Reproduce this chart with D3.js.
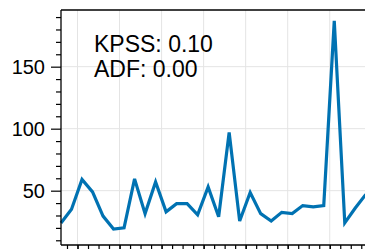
<!DOCTYPE html>
<html>
<head>
<meta charset="utf-8">
<script src="https://cdn.jsdelivr.net/npm/d3@7"></script>
<style>
  body { margin: 0; background: #fff; }
  svg { display: block; font-family: "Liberation Sans", Arial, sans-serif; }
</style>
</head>
<body>
<div id="visual"></div>
<script>
// series values (one per period)
var values = [24, 35, 59, 49, 29.5, 19, 20, 59.5, 31.5, 57, 33, 39.5, 39.5, 30.5, 53,
              29, 97, 25.5, 48.5, 31.5, 25.5, 32.5, 31.5, 38, 37, 38, 187, 24, 36, 47];
var yTicks = [50, 100, 150];
var yMinor = [10, 20, 30, 40, 60, 70, 80, 90, 110, 120, 130, 140, 160, 170, 180, 190];
var statLines = ["KPSS: 0.10", "ADF: 0.00"];

const w = 365;
const h = 249;
const padLeft = 61, padTop = 10, padBottom = 245;
const step = 10.51;
const tickOffset = 0.57;

const xScale = d3.scaleLinear()
                 .domain([0, 30])
                 .range([padLeft, padLeft + 30 * step]);

const yScale = d3.scaleLinear()
                 .domain([6.2, 195.7])
                 .range([padBottom, padTop]);

// x ticks sit between the data points, major every 4
var xMinor = d3.range(0, 30).map(k => k + tickOffset);
var xMajor = xMinor.filter((d, i) => i % 4 == 1);

const svgC = d3.select("#visual")
               .append("svg")
               .attr("width", w)
               .attr("height", h);

// grid
svgC.append("g")
    .selectAll("line")
    .data(xMajor)
    .enter()
    .append("line")
    .attr("x1", d => xScale(d)).attr("x2", d => xScale(d))
    .attr("y1", padTop).attr("y2", padBottom)
    .attr("stroke", "#e4e4e4")
    .attr("stroke-width", 1);

svgC.append("g")
    .selectAll("line")
    .data(yTicks)
    .enter()
    .append("line")
    .attr("x1", padLeft).attr("x2", w)
    .attr("y1", d => yScale(d)).attr("y2", d => yScale(d))
    .attr("stroke", "#e4e4e4")
    .attr("stroke-width", 1);

// the series
const line = d3.line()
               .x((d, i) => xScale(i))
               .y(d => yScale(d));

svgC.append("path")
    .datum(values)
    .attr("d", line)
    .attr("fill", "none")
    .attr("stroke", "#0072b2")
    .attr("stroke-width", 3.2)
    .attr("stroke-linejoin", "miter");

// axes
const yAxis = d3.axisLeft(yScale)
                .tickValues(yTicks)
                .tickSize(10)
                .tickPadding(6);
const yAxisMinor = d3.axisLeft(yScale)
                     .tickValues(yMinor)
                     .tickSize(5)
                     .tickFormat("");
const xAxis = d3.axisBottom(xScale)
                .tickValues(xMajor)
                .tickSize(10)
                .tickFormat("");
const xAxisMinor = d3.axisBottom(xScale)
                     .tickValues(xMinor)
                     .tickSize(5)
                     .tickFormat("");

svgC.append("g")
    .attr("id", "y-axis")
    .attr("transform", "translate(" + padLeft + ",0)")
    .call(yAxis);
svgC.append("g")
    .attr("transform", "translate(" + padLeft + ",0)")
    .call(yAxisMinor);
svgC.append("g")
    .attr("id", "x-axis")
    .attr("transform", "translate(0," + padBottom + ")")
    .call(xAxis);
svgC.append("g")
    .attr("transform", "translate(0," + padBottom + ")")
    .call(xAxisMinor);

svgC.selectAll(".domain").remove();
svgC.selectAll(".tick line").attr("stroke", "#000").attr("stroke-width", 1.2);
svgC.select("#y-axis").selectAll("text")
    .attr("font-size", "20px")
    .attr("fill", "#000")
    .attr("font-family", "Liberation Sans, Arial, sans-serif");

// spines
svgC.append("line")
    .attr("x1", padLeft).attr("x2", padLeft)
    .attr("y1", padTop).attr("y2", padBottom)
    .attr("stroke", "#000").attr("stroke-width", 1.3);
svgC.append("line")
    .attr("x1", padLeft).attr("x2", w)
    .attr("y1", padTop).attr("y2", padTop)
    .attr("stroke", "#000").attr("stroke-width", 1.3);
svgC.append("line")
    .attr("x1", padLeft).attr("x2", w)
    .attr("y1", padBottom).attr("y2", padBottom)
    .attr("stroke", "#000").attr("stroke-width", 1.3);

// stats text
svgC.append("g")
    .selectAll("text")
    .data(statLines)
    .enter()
    .append("text")
    .attr("x", 94)
    .attr("y", (d, i) => 51.5 + i * 25)
    .attr("font-size", "23px")
    .attr("fill", "#000")
    .text(d => d);
</script>
</body>
</html>
